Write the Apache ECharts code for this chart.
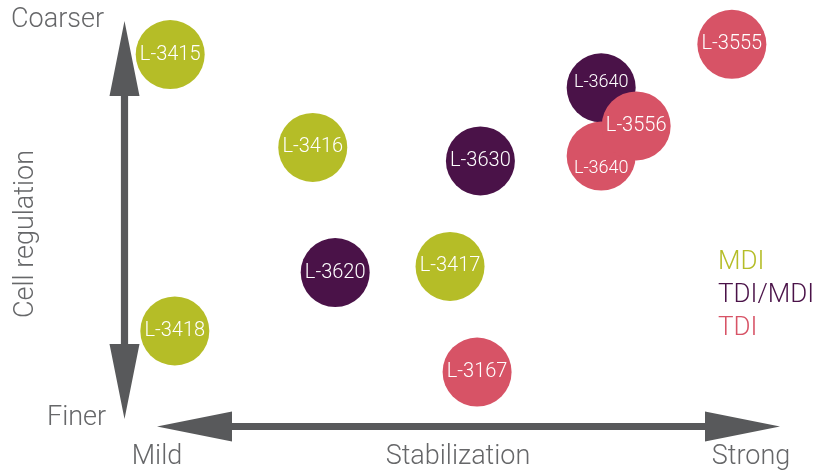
<!DOCTYPE html>
<html>
<head>
<meta charset="utf-8">
<script src="https://cdn.jsdelivr.net/npm/echarts@6/dist/echarts.min.js"></script>
<style>html,body{margin:0;padding:0;background:#fff}#chart{width:817px;height:473px}</style>
</head>
<body>
<div id="chart"></div>
<script>
// Groups (legend) and their colours
const groups = ['MDI', 'TDI/MDI', 'TDI'];
const groupColors = ['#b5bd27', '#4a1248', '#d75366'];

// Products: name, group, stabilization (0 mild .. 10 strong), cell regulation (0 finer .. 10 coarser)
const mdiNames = ['L-3415', 'L-3416', 'L-3417', 'L-3418'];
const mdiX = [0.70, 2.86, 4.94, 0.77];
const mdiY = [9.15, 6.86, 3.93, 2.34];

const tdiMdiNames = ['L-3620', 'L-3630', 'L-3640'];
const tdiMdiX = [3.20, 5.40, 7.23];
const tdiMdiY = [3.78, 6.53, 8.33];

const tdiNames = ['L-3640', 'L-3556', 'L-3555', 'L-3167'];
const tdiX = [7.23, 7.76, 9.21, 5.35];
const tdiY = [6.65, 7.39, 9.40, 1.33];

// Axis end labels
const xAxisLabels = ['Mild', 'Stabilization', 'Strong'];
const yAxisLabels = ['Coarser', 'Cell regulation', 'Finer'];

const FONT = 'Roboto, "Liberation Sans", sans-serif';
const TEXT_GRAY = '#666769';
const ARROW = '#58595b';

// label tweaks for crowded bubbles (by group index / point index)
const labelTweaks = {
  '1-2': {offset: [0, -5], fontSize: 18},
  '2-0': {offset: [0, 12], fontSize: 18}
};

function build(gi, names, xs, ys) {
  return names.map((n, i) => {
    const item = {name: n, value: [xs[i], ys[i]]};
    const t = labelTweaks[gi + '-' + i];
    if (t) item.label = {offset: t.offset, fontSize: t.fontSize};
    return item;
  });
}

const seriesData = [
  build(0, mdiNames, mdiX, mdiY),
  build(1, tdiMdiNames, tdiMdiX, tdiMdiY),
  build(2, tdiNames, tdiX, tdiY)
];

const chart = echarts.init(document.getElementById('chart'), null, {renderer: 'canvas'});

const headLen = 75, headHalf = 15, shaftHalf = 3.6;
function vArrow(x, y1, y2) {
  return {
    type: 'polygon', silent: true,
    shape: {points: [
      [x, y1], [x + headHalf, y1 + headLen], [x + shaftHalf, y1 + headLen],
      [x + shaftHalf, y2 - headLen], [x + headHalf, y2 - headLen], [x, y2],
      [x - headHalf, y2 - headLen], [x - shaftHalf, y2 - headLen],
      [x - shaftHalf, y1 + headLen], [x - headHalf, y1 + headLen]
    ]},
    style: {fill: ARROW}
  };
}
function hArrow(y, x1, x2) {
  return {
    type: 'polygon', silent: true,
    shape: {points: [
      [x1, y], [x1 + headLen, y - headHalf], [x1 + headLen, y - shaftHalf],
      [x2 - headLen, y - shaftHalf], [x2 - headLen, y - headHalf], [x2, y],
      [x2 - headLen, y + headHalf], [x2 - headLen, y + shaftHalf],
      [x1 + headLen, y + shaftHalf], [x1 + headLen, y + headHalf]
    ]},
    style: {fill: ARROW}
  };
}
function txt(s, x, y, align, extra) {
  return Object.assign({
    type: 'text', silent: true, x: x, y: y,
    style: {text: s, fill: TEXT_GRAY, font: '300 27px ' + FONT, textAlign: align, textVerticalAlign: 'middle'}
  }, extra || {});
}

const option = {
  backgroundColor: '#ffffff',
  animation: false,
  grid: {left: 124, right: 33, top: 20, bottom: 47},
  xAxis: {type: 'value', min: 0, max: 10, show: false},
  yAxis: {type: 'value', min: 0, max: 10, show: false},
  legend: {
    orient: 'vertical', left: 708, top: 244, itemGap: 7,
    icon: 'none', itemWidth: 0, itemHeight: 0,
    selectedMode: false,
    textStyle: {fontFamily: FONT, fontWeight: 300, fontSize: 26},
    data: groups.map((g, i) => ({name: g, textStyle: {color: groupColors[i]}}))
  },
  graphic: [
    vArrow(124.5, 21, 419),
    hArrow(426.5, 157, 780),
    txt(yAxisLabels[0], 11, 20, 'left'),
    txt(yAxisLabels[2], 47, 418, 'left'),
    {
      type: 'text', silent: true, x: 26, y: 234, rotation: Math.PI / 2,
      style: {text: yAxisLabels[1], fill: TEXT_GRAY, font: '300 27px ' + FONT, textAlign: 'center', textVerticalAlign: 'middle'}
    },
    txt(xAxisLabels[0], 157, 457, 'center'),
    txt(xAxisLabels[1], 458, 457, 'center'),
    txt(xAxisLabels[2], 751, 457, 'center')
  ],
  series: groups.map((g, i) => ({
    name: g,
    type: 'scatter',
    symbol: 'circle',
    symbolSize: 69,
    itemStyle: {color: groupColors[i], opacity: 1},
    label: {
      show: true, position: 'inside', formatter: '{b}',
      color: '#ffffff', fontFamily: FONT, fontWeight: 300, fontSize: 20
    },
    emphasis: {disabled: true},
    data: seriesData[i]
  }))
};

chart.setOption(option);
</script>
</body>
</html>
